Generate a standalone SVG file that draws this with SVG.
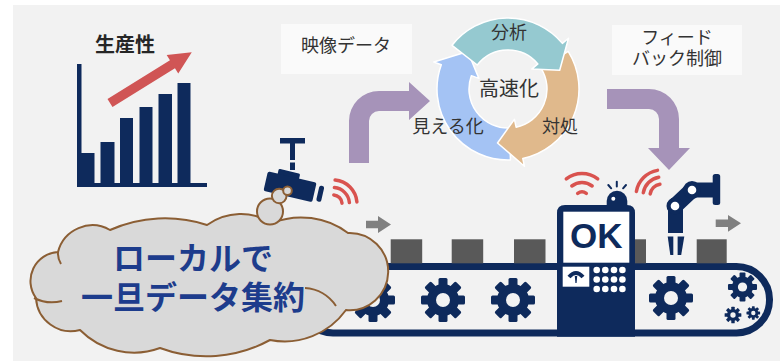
<svg xmlns="http://www.w3.org/2000/svg" width="780" height="361" viewBox="0 0 780 361">
<style>
.navy{fill:#0e2a5c}
.jp{font-family:"Noto Sans CJK JP","Noto Sans",sans-serif}
.lbl{font-size:18px;fill:#333;text-anchor:middle}
.wifi{fill:none;stroke:#d9534f;stroke-width:3.5;stroke-linecap:round}
.box{fill:#595959}
.garrow{fill:#808080}
.flow{fill:#a693b9}
.ring{stroke:#ffffff;stroke-width:1.5;stroke-linejoin:round}
.cloud{fill:#d9d9d9;stroke:#8b5e34;stroke-width:2}
.tag{fill:#fafafa}
</style>
<defs>
  <!-- eight-tooth gear with a hollow hub -->
  <g id="gear">
    <circle r="16" class="navy"/>
    <g class="navy">
      <rect x="-4.5" y="-22" width="9" height="9" rx="1.5"/>
      <rect x="-4.5" y="-22" width="9" height="9" rx="1.5" transform="rotate(45)"/>
      <rect x="-4.5" y="-22" width="9" height="9" rx="1.5" transform="rotate(90)"/>
      <rect x="-4.5" y="-22" width="9" height="9" rx="1.5" transform="rotate(135)"/>
      <rect x="-4.5" y="-22" width="9" height="9" rx="1.5" transform="rotate(180)"/>
      <rect x="-4.5" y="-22" width="9" height="9" rx="1.5" transform="rotate(225)"/>
      <rect x="-4.5" y="-22" width="9" height="9" rx="1.5" transform="rotate(270)"/>
      <rect x="-4.5" y="-22" width="9" height="9" rx="1.5" transform="rotate(315)"/>
    </g>
    <circle r="7" fill="#f2f2f2"/>
  </g>
</defs>

<!-- canvas -->
<rect width="780" height="361" fill="#ffffff"/>
<rect x="13" y="5" width="767" height="356" fill="#f2f2f2"/>

<!-- productivity chart -->
<g id="productivity">
  <text x="125" y="52" class="jp" font-size="20" font-weight="bold" fill="#262626" text-anchor="middle">生産性</text>
  <g class="navy">
    <rect x="77" y="64" width="4.5" height="123"/>
    <rect x="77" y="183" width="130" height="4"/>
    <rect x="81" y="153" width="13.5" height="31"/>
    <rect x="100.5" y="142" width="14" height="42"/>
    <rect x="120" y="118" width="13" height="66"/>
    <rect x="139.5" y="107" width="13" height="77"/>
    <rect x="158.5" y="94" width="13.5" height="90"/>
    <rect x="177.5" y="83" width="13" height="104"/>
  </g>
  <g transform="translate(110,103) rotate(-31.8)">
    <path d="M0,-4.75 H73.5 V-11 L96.2,0 L73.5,11 V4.75 H0 Z" fill="#d05555"/>
  </g>
</g>

<!-- captions -->
<g id="label-video">
  <rect x="281" y="24" width="131" height="50" class="tag"/>
  <text x="346" y="52" class="jp lbl">映像データ</text>
</g>
<g id="label-feedback">
  <rect x="612" y="25" width="130" height="50" class="tag"/>
  <text x="677" y="44" class="jp lbl">フィード</text>
  <text x="677" y="65" class="jp lbl">バック制御</text>
</g>

<!-- flow arrows -->
<g id="connectors">
  <path class="flow" d="M349,163 V121 A30,30 0 0 1 379,91 H409 V82 L430,101 L409,120 V111 H379 A10,10 0 0 0 369,121 V163 Z"/>
  <path class="flow" d="M607,89 H649 A30,30 0 0 1 679,119 V148 H690 L669,170 L648,148 H659 V119 A10,10 0 0 0 649,109 H607 Z"/>
</g>

<!-- speed-up cycle -->
<g id="cycle">
  <path class="ring" fill="#a4c3f4" d="M510.48,159.96 A71,71 0 0 1 441.28,64.72 L433.76,61.98 L467.77,51.49 L478.87,78.40 L471.35,75.66 A39,39 0 0 0 509.36,127.98 Z"/>
  <path class="ring" fill="#e0b98c" d="M568.21,51.38 A71,71 0 0 1 522.76,158.45 L524.42,166.27 L497.51,142.99 L514.44,119.32 L516.11,127.15 A39,39 0 0 0 541.07,68.33 Z"/>
  <path class="ring" fill="#95c9d0" d="M452.05,45.29 A71,71 0 0 1 562.39,43.36 L568.52,38.22 L559.68,70.19 L531.75,69.07 L537.87,63.93 A39,39 0 0 0 477.27,64.99 Z"/>
  <text x="509" y="39" class="jp lbl">分析</text>
  <text x="509" y="96" class="jp" font-size="20" fill="#333" text-anchor="middle">高速化</text>
  <text x="448" y="133" class="jp lbl">見える化</text>
  <text x="560" y="133" class="jp lbl">対処</text>
</g>

<!-- conveyor line -->
<g id="conveyor">
  <rect x="300" y="266.5" width="469.5" height="66.5" rx="33" fill="none" stroke="#0e2a5c" stroke-width="7"/>
  <rect x="390.7" y="239.3" width="31.5" height="24" class="box"/>
  <rect x="451.7" y="239.3" width="31.5" height="24" class="box"/>
  <rect x="514" y="239.3" width="31.5" height="24" class="box"/>
  <rect x="615" y="239.3" width="31" height="24" class="box"/>
  <rect x="696.7" y="239.3" width="30" height="24" class="box"/>
  <use href="#gear" transform="translate(373,300)"/>
  <use href="#gear" transform="translate(443,300)"/>
  <use href="#gear" transform="translate(513,300)"/>
  <use href="#gear" transform="translate(671,298)"/>
  <use href="#gear" transform="translate(742.5,287) scale(0.66)"/>
  <use href="#gear" transform="translate(733,315) scale(0.38)"/>
  <use href="#gear" transform="translate(753.3,313) scale(0.31)"/>
  <path class="garrow" d="M366,220.7 H378 V216 L391,224.5 L378,233 V228.3 H366 Z"/>
  <path class="garrow" d="M715.7,219.5 H728 V215 L741,223.3 L728,231.7 V227 H715.7 Z"/>
</g>

<!-- inspection terminal -->
<g id="inspection">
  <path class="navy" d="M557,336.7 V213 Q557,205 565,205 H627 Q635,205 635,213 V336.7 Z"/>
  <rect x="563.3" y="211.7" width="66" height="51" fill="#ffffff"/>
  <text x="596.3" y="248.3" font-family="'Liberation Sans',Arial,sans-serif" font-size="35" font-weight="bold" fill="#0e2a5c" text-anchor="middle">OK</text>
  <rect x="562.7" y="266.7" width="26.6" height="20" fill="#ffffff"/>
  <path d="M569,277 Q576,269 583,277" fill="none" stroke="#0e2a5c" stroke-width="4"/>
  <path class="navy" d="M574.8,276 L577.2,276 L576.6,283 L575.4,283 Z"/>
  <g fill="#ffffff">
    <circle cx="596.7" cy="270" r="3.3"/><circle cx="605.3" cy="270" r="3.3"/><circle cx="614" cy="270" r="3.3"/><circle cx="622.4" cy="270" r="3.3"/>
    <circle cx="596.7" cy="279.5" r="3.3"/><circle cx="605.3" cy="279.5" r="3.3"/><circle cx="614" cy="279.5" r="3.3"/><circle cx="622.4" cy="279.5" r="3.3"/>
    <circle cx="596.7" cy="289" r="3.3"/><circle cx="605.3" cy="289" r="3.3"/><circle cx="614" cy="289" r="3.3"/><circle cx="622.4" cy="289" r="3.3"/>
  </g>
  <path class="navy" d="M606.7,205.5 V201 A10.3,10.3 0 0 1 627.3,201 V205.5 Z"/>
  <circle cx="613.3" cy="198.8" r="2" fill="#ffffff"/>
  <g stroke="#0e2a5c" stroke-width="2" stroke-linecap="round">
    <line x1="608.3" y1="185" x2="611.2" y2="188.3"/>
    <line x1="616.8" y1="181.7" x2="616.8" y2="186.5"/>
    <line x1="626" y1="185" x2="623.1" y2="188.3"/>
  </g>
  <g class="wifi">
    <path d="M577.69,193.48 A7,7 0 0 1 586.31,193.48"/>
    <path d="M571.84,186 A16.5,16.5 0 0 1 592.16,186"/>
    <path d="M566.3,178.91 A25.5,25.5 0 0 1 597.7,178.91"/>
  </g>
</g>

<!-- robot arm -->
<g id="robot">
  <rect x="712.7" y="174" width="7.5" height="31" rx="2.5" class="navy"/>
  <g stroke="#0e2a5c" fill="none">
    <line x1="692" y1="190" x2="714" y2="190" stroke-width="15"/>
    <line x1="692" y1="190" x2="675" y2="206" stroke-width="16" stroke-linecap="round"/>
    <line x1="675.5" y1="206" x2="675.5" y2="233" stroke-width="15"/>
  </g>
  <circle cx="692" cy="190" r="9" class="navy"/>
  <circle cx="675" cy="206" r="8.5" class="navy"/>
  <circle cx="692" cy="190" r="4.3" fill="#ffffff"/>
  <circle cx="675" cy="206" r="4.3" fill="#ffffff"/>
  <path class="navy" d="M667.7,236.5 H673.3 V255 H670.3 Z"/>
  <path class="navy" d="M677.6,236.5 H684.3 L681.2,255 H677.6 Z"/>
  <g class="wifi">
    <path d="M650.18,193.92 A12,12 0 0 1 659.92,184.18"/>
    <path d="M643.29,192.7 A19,19 0 0 1 658.7,177.29"/>
    <path d="M636.39,191.49 A26,26 0 0 1 657.49,170.39"/>
  </g>
</g>

<!-- network camera -->
<g id="camera">
  <rect x="280" y="138" width="25" height="5.5" class="navy"/>
  <rect x="290" y="143" width="5" height="17" class="navy"/>
  <rect x="290" y="162.5" width="5" height="7.5" class="navy"/>
  <g transform="translate(291,187) rotate(13)" class="navy">
    <rect x="-16" y="-15" width="22" height="7" rx="1.5"/>
    <rect x="-26" y="-10" width="50" height="20" rx="2"/>
    <rect x="27.5" y="-8" width="5" height="16" rx="2"/>
  </g>
  <g class="wifi">
    <path d="M333.8,195 A9,9 0 0 1 342,203.2"/>
    <path d="M334.4,187.6 A16.5,16.5 0 0 1 349.4,202.6"/>
    <path d="M335.1,180.1 A24,24 0 0 1 356.9,201.9"/>
  </g>
</g>

<!-- local aggregation cloud -->
<g id="local-cloud">
  <path class="cloud" d="M36,298 A29,29 0 0 1 58,252 A35.5,35.5 0 0 1 110,230 A135,135 0 0 1 207,225 A58,58 0 0 1 272,223 A78.5,78.5 0 0 1 348,233 A38.6,38.6 0 1 1 346,310 A75.5,75.5 0 0 1 270,340 A132.7,132.7 0 0 1 160,348 A76,76 0 0 1 80,330 A35,35 0 0 1 36,298 Z"/>
  <g fill="none" stroke="#8b5e34" stroke-width="2">
    <path d="M58,252 A20,20 0 0 0 61,264"/>
    <path d="M34,298 A40,40 0 0 0 62,301"/>
    <path d="M305,288 A40,40 0 0 1 336,306"/>
  </g>
  <circle cx="270" cy="211.5" r="13" class="cloud" stroke-width="1.8"/>
  <circle cx="279.2" cy="196" r="7.3" class="cloud" stroke-width="1.8"/>
  <circle cx="287.5" cy="190.8" r="4.3" class="cloud" stroke-width="1.6"/>
  <text x="193" y="269.5" class="jp" font-size="32" font-weight="bold" fill="#1d3c8c" text-anchor="middle">ローカルで</text>
  <text x="193" y="309" class="jp" font-size="32" font-weight="bold" fill="#1d3c8c" text-anchor="middle">一旦データ集約</text>
</g>
</svg>
